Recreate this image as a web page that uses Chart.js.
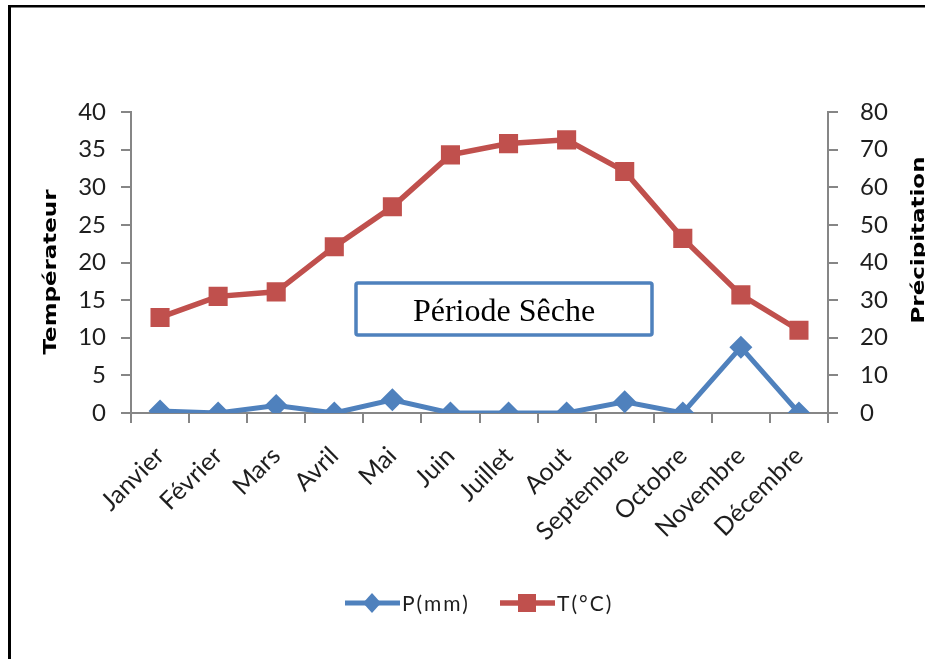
<!DOCTYPE html>
<html><head><meta charset="utf-8">
<script src="https://cdn.jsdelivr.net/npm/chart.js@4.4.0/dist/chart.umd.min.js"></script>
<style>html,body{margin:0;padding:0;background:#fff;} #wrap{position:relative;width:925px;height:659px;}</style>
</head><body><div id="wrap"><canvas id="c" width="925" height="659"></canvas></div>
<script>
const months = ['Janvier','Février','Mars','Avril','Mai','Juin','Juillet','Aout','Septembre','Octobre','Novembre','Décembre'];
const precipitationMm = [0.5, 0, 2, 0, 3.5, 0, 0, 0, 3, 0, 17.5, 0];
const temperatureC = [12.7, 15.5, 16.1, 22.1, 27.4, 34.3, 35.8, 36.3, 32.1, 23.2, 15.7, 11.0];
const tempTicks = {min: 0, max: 40, step: 5};
const precipTicks = {min: 0, max: 80, step: 10};
const tempTitle = 'Températeur';
const precipTitle = 'Précipitation';
const seriesNames = ['P(mm)', 'T(°C)'];
const annotationText = 'Période Sêche';

const BLUE = '#4F81BD', RED = '#C0504D', AXIS = '#868686', TXT = '#1e1e1e';

function drawStretched(ctx, text, cx, cy, font, targetLen) {
  ctx.save();
  ctx.font = font;
  const w = ctx.measureText(text).width;
  ctx.translate(cx, cy);
  ctx.rotate(-Math.PI / 2);
  ctx.scale(targetLen / w, 1);
  ctx.textAlign = 'center';
  ctx.textBaseline = 'middle';
  ctx.fillStyle = '#000';
  ctx.fillText(text, 0, 0);
  ctx.restore();
}

const decor = {
  id: 'decor',
  afterDraw(chart) {
    const ctx = chart.ctx;
    ctx.save();
    // frame
    ctx.fillStyle = '#000';
    ctx.fillRect(8, 5, 917, 2.5);
    ctx.fillRect(8, 5, 3, 654);
    // axis titles
    drawStretched(ctx, tempTitle, 51, 272, 'bold 18px "DejaVu Sans"', 165);
    drawStretched(ctx, precipTitle, 919, 240, 'bold 18px "DejaVu Sans"', 167);
    // annotation box
    ctx.fillStyle = '#fff';
    ctx.fillRect(356, 283, 296, 52);
    ctx.strokeStyle = BLUE;
    ctx.lineWidth = 3.5;
    ctx.beginPath();
    ctx.roundRect(356, 283, 296, 52, 2);
    ctx.stroke();
    ctx.fillStyle = '#000';
    ctx.font = '32px "Liberation Serif"';
    ctx.textAlign = 'center';
    ctx.textBaseline = 'alphabetic';
    ctx.fillText(annotationText, 504, 321);
    // legend
    const ds = chart.data.datasets;
    const items = [{x: 345, ds: ds[0]}, {x: 500, ds: ds[1]}];
    ctx.font = '21px Lato';
    ctx.letterSpacing = '2px';
    ctx.textAlign = 'left';
    ctx.textBaseline = 'middle';
    const ly = 603;
    items.forEach(it => {
      ctx.strokeStyle = it.ds.borderColor;
      ctx.lineWidth = it.ds.borderWidth;
      ctx.beginPath();
      ctx.moveTo(it.x, ly);
      ctx.lineTo(it.x + 55, ly);
      ctx.stroke();
      ctx.fillStyle = it.ds.borderColor;
      const cx = it.x + 27;
      if (it.ds.pointStyle === 'rect') {
        ctx.fillRect(cx - 9, ly - 9, 18, 18);
      } else {
        ctx.beginPath();
        ctx.moveTo(cx, ly - 10); ctx.lineTo(cx + 9, ly); ctx.lineTo(cx, ly + 10); ctx.lineTo(cx - 9, ly);
        ctx.closePath(); ctx.fill();
      }
      ctx.fillStyle = TXT;
      ctx.fillText(it.ds.label, it.x + 57, ly + 1);
    });
    ctx.restore();
  }
};

new Chart(document.getElementById('c'), {
  type: 'line',
  data: {
    labels: months,
    datasets: [
      {label: seriesNames[0], data: precipitationMm, yAxisID: 'yP', borderColor: BLUE, backgroundColor: BLUE,
       borderWidth: 5, pointStyle: 'rectRot', pointRadius: 11.5, pointBorderWidth: 0, tension: 0},
      {label: seriesNames[1], data: temperatureC, yAxisID: 'yT', borderColor: RED, backgroundColor: RED,
       borderWidth: 5.5, pointStyle: 'rect', pointRadius: 13.5, pointBorderWidth: 0, tension: 0}
    ]
  },
  options: {
    responsive: false, animation: false, devicePixelRatio: 1,
    layout: {padding: {top: 112, left: 0, right: 0, bottom: 0}},
    plugins: {legend: {display: false}, tooltip: {enabled: false}},
    scales: {
      x: {
        offset: true,
        grid: {display: true, offset: true, drawOnChartArea: false, drawTicks: true, tickLength: 10, color: AXIS, lineWidth: 2},
        border: {display: true, color: AXIS, width: 2},
        ticks: {autoSkip: false, maxRotation: 45, minRotation: 45, padding: 18, color: TXT, font: {family: 'Lato', size: 25}},
        afterFit: s => { s.height = 246; }
      },
      yT: {
        position: 'left', min: tempTicks.min, max: tempTicks.max,
        grid: {drawOnChartArea: false, drawTicks: true, tickLength: 10, color: AXIS, lineWidth: 2},
        border: {display: true, color: AXIS, width: 2},
        ticks: {stepSize: tempTicks.step, padding: 15, color: TXT, font: {family: 'Lato', size: 24}},
        afterFit: s => { s.width = 131; }
      },
      yP: {
        position: 'right', min: precipTicks.min, max: precipTicks.max,
        grid: {drawOnChartArea: false, drawTicks: true, tickLength: 10, color: AXIS, lineWidth: 2},
        border: {display: true, color: AXIS, width: 2},
        ticks: {stepSize: precipTicks.step, padding: 22, color: TXT, font: {family: 'Lato', size: 24}},
        afterFit: s => { s.width = 97; }
      }
    }
  },
  plugins: [decor]
});
</script></body></html>
